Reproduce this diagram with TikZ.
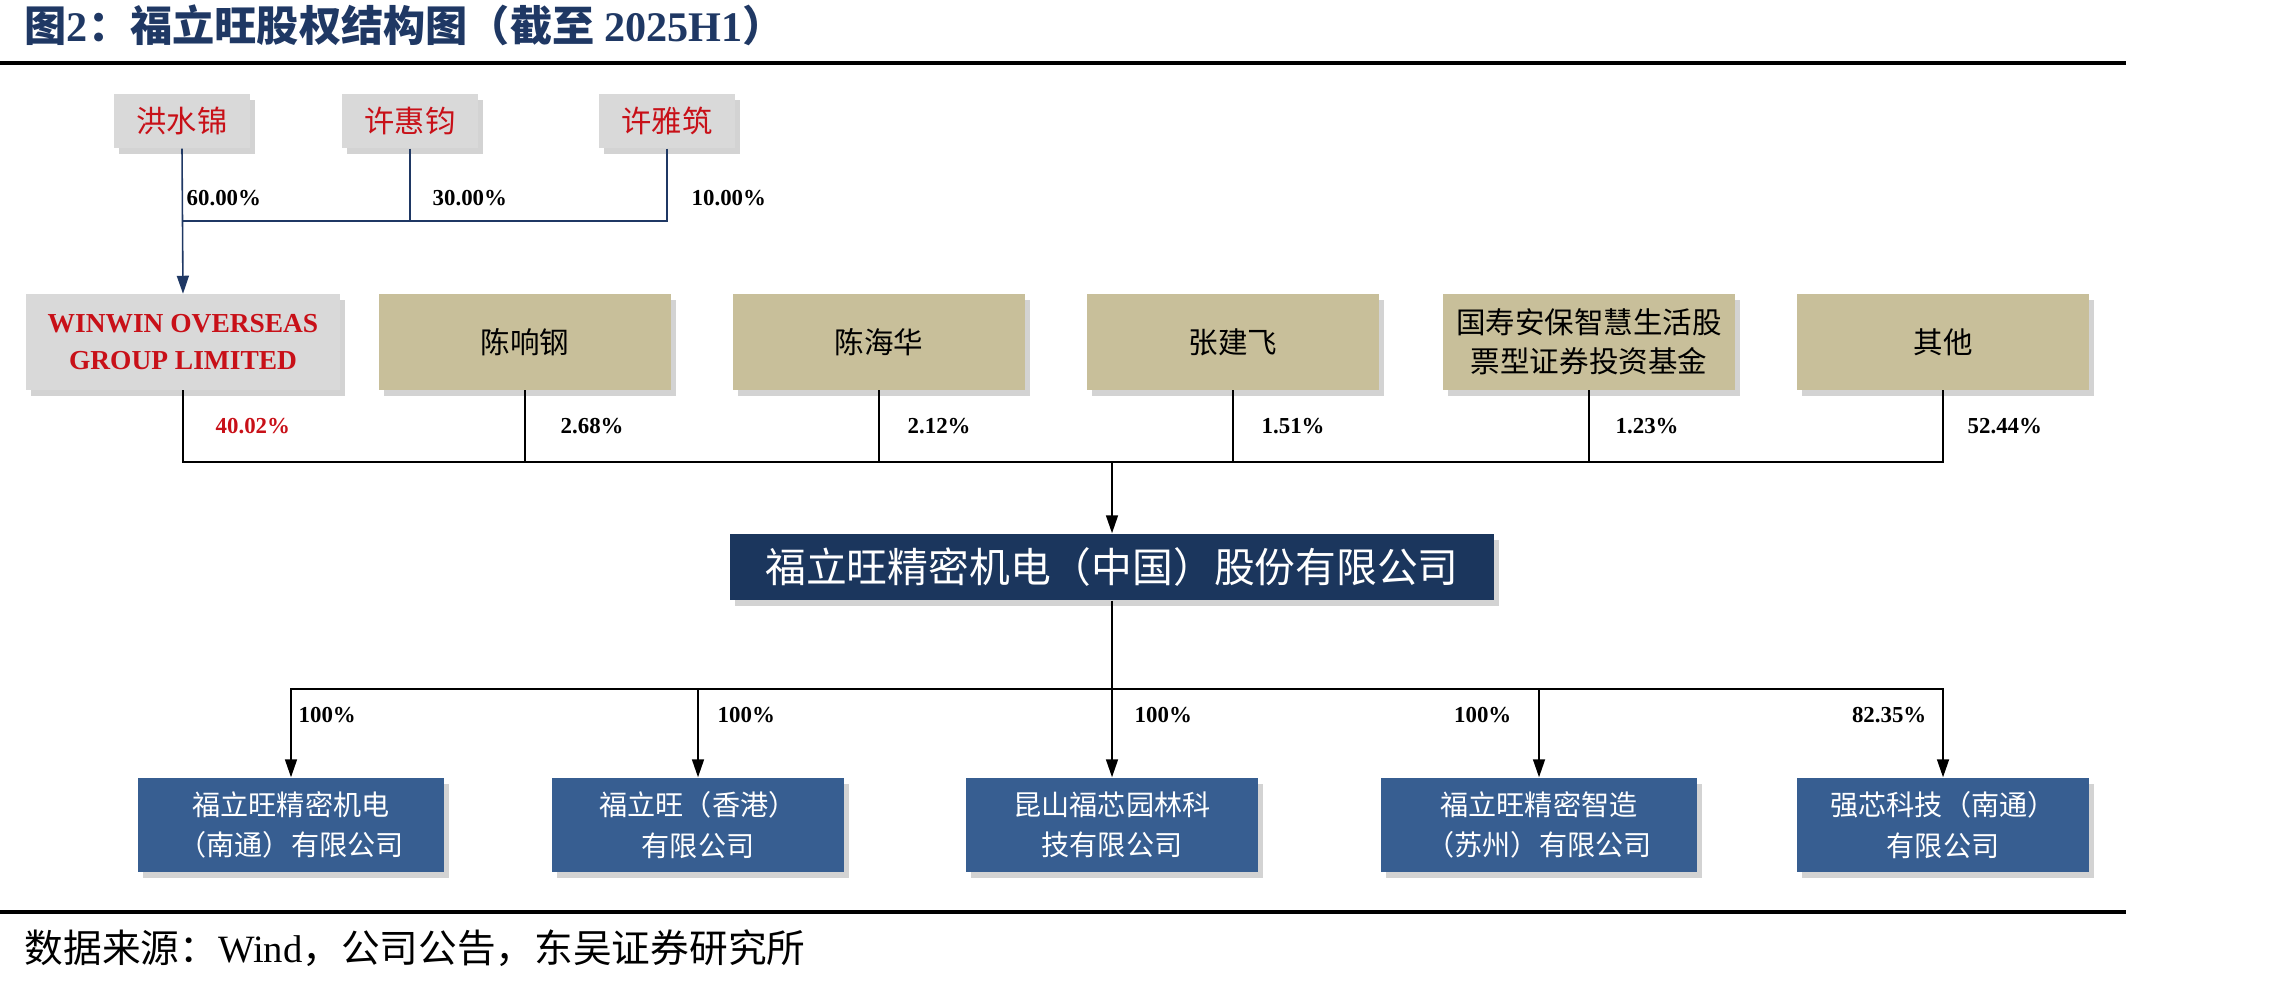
\documentclass[tikz,border=0pt]{standalone}
\usepackage{fontspec}
\usepackage{xcolor}
\usepackage{tikz}
\usetikzlibrary{arrows.meta,shadows}
\setmainfont{Liberation Serif}
\newfontfamily\cjk{Noto Sans CJK SC}
\definecolor{titleblue}{RGB}{31, 56, 100}
\definecolor{coreblue}{RGB}{27, 54, 93}
\definecolor{subblue}{RGB}{55, 94, 145}
\definecolor{sharetan}{RGB}{200, 191, 154}
\definecolor{holdergray}{RGB}{217, 217, 217}
\definecolor{holderred}{RGB}{200, 16, 24}

\begin{document}
\begin{tikzpicture}[x=0.01cm, y=-0.01cm,
    box/.style={rectangle, inner sep=0pt, align=center,
                drop shadow={shadow xshift=0.5mm, shadow yshift=-0.6mm, opacity=0.35}},
    holder/.style={box, fill=holdergray, text=holderred, font=\cjk\fontsize{8.6}{10}\selectfont,
                  minimum width=1.35cm, minimum height=0.54cm},
    parent/.style={box, fill=holdergray, text=holderred, font=\bfseries\fontsize{7.8}{10.5}\selectfont,
                  minimum width=3.14cm, minimum height=0.95cm},
    share/.style={box, fill=sharetan, font=\cjk\fontsize{8.4}{11}\selectfont,
                 minimum width=2.91cm, minimum height=0.95cm},
    core/.style={box, fill=coreblue, text=white, font=\cjk\fontsize{11.6}{13}\selectfont,
                minimum width=7.63cm, minimum height=0.66cm},
    sub/.style={box, fill=subblue, text=white, font=\cjk\fontsize{8}{11.5}\selectfont,
               minimum width=2.91cm, minimum height=0.94cm},
    pct/.style={anchor=west, inner sep=0pt, font=\bfseries\fontsize{6.5}{8}\selectfont},
    topline/.style={titleblue, line width=0.45pt},
    link/.style={black, line width=0.45pt},
    bus/.style={black, line width=0.7pt},
    arrow/.style={-{Triangle[length=1.8mm, width=1.2mm]}}
]
    \useasboundingbox (0,0) rectangle (2280,982);

    % Titel und Linien
    \node[anchor=west, inner sep=0pt, text=titleblue, font=\bfseries\fontsize{12}{14}\selectfont] (title) at (24,25)
        {{\cjk 图}2{\cjk ：福立旺股权结构图（截至 }2025H1{\cjk ）}};
    \draw[line width=1pt] (0,63) -- (2126,63);
    \draw[line width=1pt] (0,912) -- (2126,912);
    \node[anchor=west, inner sep=0pt, font=\fontsize{11}{13}\selectfont] (source) at (24,948)
        {{\cjk 数据来源：}Wind{\cjk ，公司公告，东吴证券研究所}};

    % Aktionäre von WINWIN
    \node[holder] (hong) at (182,121) {洪水锦};
    \node[holder] (xuhui) at (410,121) {许惠钧};
    \node[holder] (xuya) at (667,121) {许雅筑};

    % Aktionäre
    \node[parent] (winwin) at (183,342) {WINWIN OVERSEAS\\GROUP LIMITED};
    \node[share] (chenxg) at (525,342) {陈响钢};
    \node[share] (chenhh) at (879,342) {陈海华};
    \node[share] (zhangjf) at (1233,342) {张建飞};
    \node[share] (fund) at (1589,342) {国寿安保智慧生活股\\票型证券投资基金};
    \node[share] (others) at (1943,342) {其他};

    % Gesellschaft
    \node[core] (flw) at (1112,567) {福立旺精密机电（中国）股份有限公司};

    % Tochtergesellschaften
    \node[sub] (nantong) at (291,825) [minimum width=3.05cm] {福立旺精密机电\\（南通）有限公司};
    \node[sub] (hk) at (698,825) {福立旺（香港）\\有限公司};
    \node[sub] (kunshan) at (1112,825) {昆山福芯园林科\\技有限公司};
    \node[sub] (suzhou) at (1539,825) [minimum width=3.16cm] {福立旺精密智造\\（苏州）有限公司};
    \node[sub] (qiangxin) at (1943,825) {强芯科技（南通）\\有限公司};

    % Knoten
    \coordinate (tj) at (182,221);
    \coordinate (mj) at (1112,462);
    \coordinate (bj) at (1112,689);

    % Linien oben
    \draw[topline] (xuhui.south) |- (tj);
    \draw[topline] (xuya.south) |- (tj);
    \draw[topline, arrow] (hong.south) -- (winwin.north);
    \node[pct] (p60) at (186,198) {60.00\%};
    \node[pct] (p30) at (432,198) {30.00\%};
    \node[pct] (p10) at (691,198) {10.00\%};

    % Linien Mitte
    \draw[link] (winwin.south) |- (mj);
    \draw[link] (chenxg.south) |- (mj);
    \draw[link] (chenhh.south) |- (mj);
    \draw[link] (zhangjf.south) |- (mj);
    \draw[link] (fund.south) |- (mj);
    \draw[link] (others.south) |- (mj);
    \draw[bus] (winwin.south |- mj) -- (others.south |- mj);
    \draw[link, arrow] (mj) -- (flw.north);
    \node[pct, text=holderred] (p40) at (215,426) {40.02\%};
    \node[pct] (p268) at (560,426) {2.68\%};
    \node[pct] (p212) at (907,426) {2.12\%};
    \node[pct] (p151) at (1261,426) {1.51\%};
    \node[pct] (p123) at (1615,426) {1.23\%};
    \node[pct] (p5244) at (1967,426) {52.44\%};

    % Linien unten
    \draw[link] (flw.south) -- (bj);
    \draw[bus] (nantong.north |- bj) -- (qiangxin.north |- bj);
    \draw[link, arrow] (bj) -| (nantong.north);
    \draw[link, arrow] (bj) -| (hk.north);
    \draw[link, arrow] (bj) -- (kunshan.north);
    \draw[link, arrow] (bj) -| (suzhou.north);
    \draw[link, arrow] (bj) -| (qiangxin.north);
    \node[pct] (s1) at (298,715) {100\%};
    \node[pct] (s2) at (717,715) {100\%};
    \node[pct] (s3) at (1134,715) {100\%};
    \node[pct, anchor=east] (s4) at (1512,715) {100\%};
    \node[pct, anchor=east] (s5) at (1927,715) {82.35\%};
\end{tikzpicture}
\end{document}
